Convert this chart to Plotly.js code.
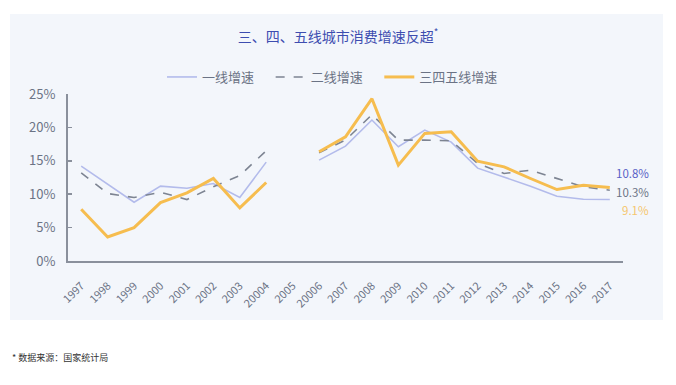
<!DOCTYPE html>
<html><head><meta charset="utf-8">
<script src="https://cdn.plot.ly/plotly-3.0.1.min.js"></script>
<style>html,body{margin:0;padding:0;background:#fff}#c{width:676px;height:385px}</style>
</head><body><div id="c"></div>
<script>
const years = ["1997","1998","1999","2000","2001","2002","2003","20004","2005","20006","2007","2008","2009","2010","2011","2012","2013","2014","2015","2016","2017"];
const tier1 = [14.2,11.5,8.8,11.2,10.9,11.6,9.5,14.8,null,15.1,17.2,21.1,17.1,19.6,17.8,13.9,12.6,11.2,9.7,9.25,9.2];
const tier2 = [13.2,10.1,9.5,10.3,9.2,11.1,12.8,16.5,null,16.2,18.1,21.9,18.1,18.1,18.0,14.6,13.1,13.6,12.4,11.1,10.6];
const tier345 = [7.75,3.6,5.0,8.75,10.2,12.35,7.95,11.75,null,16.35,18.6,24.3,14.35,19.1,19.35,14.95,14.1,12.35,10.7,11.35,11.0];
const seriesNames = ["一线增速","二线增速","三四五线增速"];
const endLabels = ["10.8%","10.3%","9.1%"];
const yTicks = [0,5,10,15,20,25];

const L=68, R=53, T=94, B=124, W=676-L-R, H=385-T-B;
const px = x => (x-L)/W, py = y => (385-B-y)/H;
const font = "'Noto Sans CJK SC','Noto Sans',sans-serif";
const pad = '\u00a0\u00a0\u00a0\u00a0';

const traces = [
  {x:years,y:tier1,name:seriesNames[0]+pad,type:'scatter',mode:'lines',connectgaps:false,line:{color:'#b3bbeb',width:1.6}},
  {x:years,y:tier2,name:seriesNames[1]+pad,type:'scatter',mode:'lines',connectgaps:false,line:{color:'#7d8492',width:1.6,dash:'dash'}},
  {x:years,y:tier345,name:seriesNames[2],type:'scatter',mode:'lines',connectgaps:false,line:{color:'#f6bd4f',width:3}}
];
const labelColors = ['#5860c6','#6b7385','#f5c66e'];
const labelY = [173,192,210];
const annotations = endLabels.map((t,i)=>({text:t,xref:'paper',yref:'paper',x:px(651),y:py(labelY[i]),xanchor:'right',yanchor:'middle',showarrow:false,font:{family:font,size:11.5,color:labelColors[i]}}));
annotations.push({text:'* 数据来源：国家统计局',xref:'paper',yref:'paper',x:px(10),y:py(357),xanchor:'left',yanchor:'middle',showarrow:false,font:{family:font,size:9,color:'#333'}});

const layout = {
  width:676,height:385,
  margin:{l:L,r:R,t:T,b:B},
  paper_bgcolor:'#ffffff',plot_bgcolor:'rgba(0,0,0,0)',
  font:{family:font,color:'#6b7385'},
  title:{text:'三、四、五线城市消费增速反超<sup>*</sup>',xref:'paper',x:px(338),xanchor:'center',yref:'container',y:1-37/385,yanchor:'middle',font:{family:font,size:14,color:'#3d4db0'}},
  showlegend:true,
  legend:{orientation:'h',x:px(162),xanchor:'left',y:py(77),yanchor:'middle',font:{family:font,size:13,color:'#6b7385'},bgcolor:'rgba(0,0,0,0)'},
  xaxis:{type:'category',range:[-0.5,years.length-0.5],tickangle:-45,showgrid:false,zeroline:false,showline:true,linecolor:'#8a909c',linewidth:2,ticks:'',ticklabelstandoff:12,tickfont:{family:font,size:11,color:'#6b7385'},fixedrange:true},
  yaxis:{range:[0,25],tickvals:yTicks,ticktext:yTicks.map(v=>v+'%'),showgrid:false,zeroline:false,showline:true,linecolor:'#8a909c',linewidth:2,ticks:'inside',ticklen:4,tickwidth:1.5,tickcolor:'#8a909c',ticklabelstandoff:8,tickfont:{family:font,size:13,color:'#6b7385'},fixedrange:true},
  shapes:[{type:'rect',xref:'paper',yref:'paper',x0:px(10),x1:px(663),y0:py(320),y1:py(14),fillcolor:'#f3f6fb',line:{width:0},layer:'below'}],
  annotations:annotations
};
Plotly.newPlot('c',traces,layout,{displayModeBar:false,staticPlot:true});
</script></body></html>
